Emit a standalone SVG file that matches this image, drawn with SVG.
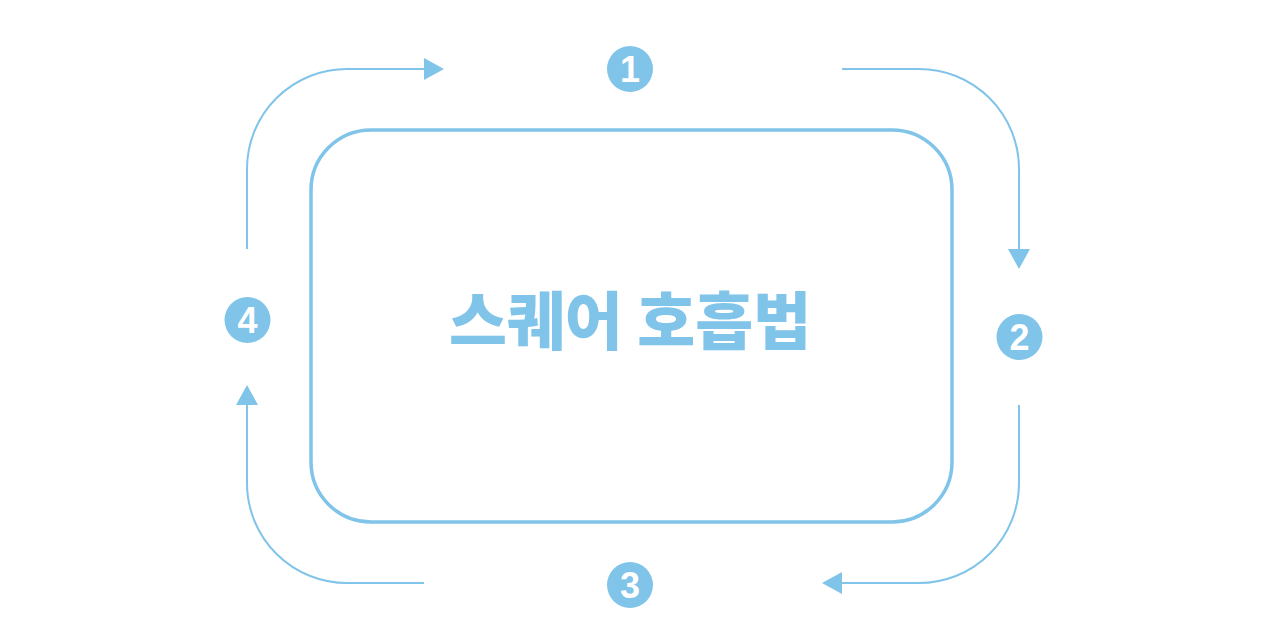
<svg xmlns="http://www.w3.org/2000/svg" width="1280" height="642" viewBox="0 0 1280 642">
<defs>
<style>
.c{fill:#80C4E9}
.n{fill:#fff;font-family:"Liberation Sans",Arial,sans-serif;font-weight:bold;font-size:36px;text-anchor:middle}
.ln{fill:none;stroke:#80C4E9;stroke-width:2}
.t{fill:#80C4E9;font-family:"Noto Sans CJK KR","Noto Sans",sans-serif;font-weight:900;font-size:63px;text-anchor:middle}
</style>
<marker id="ah" viewBox="0 0 20 22" refX="0" refY="11" markerWidth="20" markerHeight="22" markerUnits="userSpaceOnUse" orient="auto">
<path d="M0,0 L20,11 L0,22 Z" fill="#80C4E9"/>
</marker>
</defs>
<rect width="1280" height="642" fill="#fff"/>
<g id="center">
<rect x="311" y="130" width="641" height="392" rx="60" ry="60" fill="none" stroke="#80C4E9" stroke-width="3.5"/>
<text class="t" x="630" y="344">스퀘어 호흡법</text>
</g>
<g id="connectors">
<path class="ln" d="M247,249 L247,169 A100,100 0 0 1 347,69 L424,69" marker-end="url(#ah)"/>
<path class="ln" d="M842,69 L919,69 A100,100 0 0 1 1019,169 L1019,249" marker-end="url(#ah)"/>
<path class="ln" d="M1019,405 L1019,483 A100,100 0 0 1 919,583 L842,583" marker-end="url(#ah)"/>
<path class="ln" d="M424,583 L347,583 A100,100 0 0 1 247,483 L247,405" marker-end="url(#ah)"/>
</g>
<g id="step1"><circle class="c" cx="630" cy="69" r="23"/><text class="n" x="630" y="82">1</text></g>
<g id="step2"><circle class="c" cx="1019.5" cy="337" r="23"/><text class="n" x="1019.5" y="350">2</text></g>
<g id="step3"><circle class="c" cx="630" cy="585" r="23"/><text class="n" x="630" y="598">3</text></g>
<g id="step4"><circle class="c" cx="247.5" cy="320" r="23"/><text class="n" x="247.5" y="333">4</text></g>
</svg>
